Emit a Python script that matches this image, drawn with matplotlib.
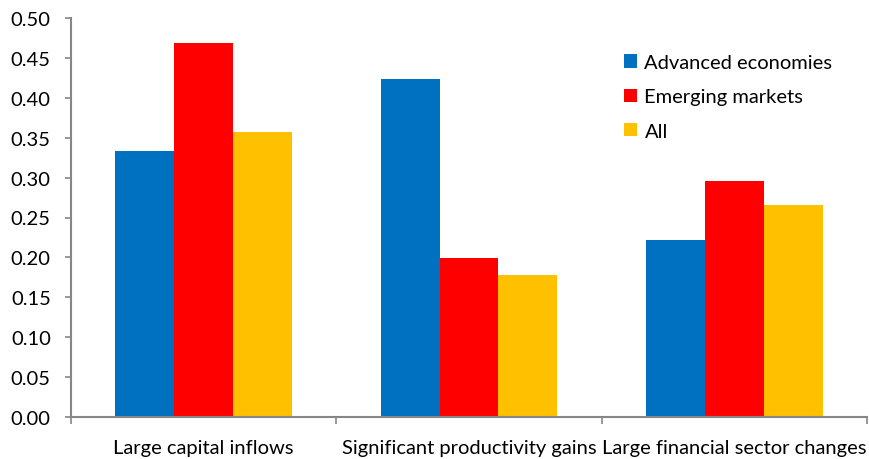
import matplotlib
matplotlib.use("Agg")
import matplotlib.pyplot as plt
import numpy as np

plt.rcParams['font.family'] = ['Lato', 'DejaVu Sans']

categories = ["Large capital inflows", "Significant productivity gains", "Large financial sector changes"]
series_names = ["Advanced economies", "Emerging markets", "All"]
advanced = [0.333, 0.423, 0.222]
emerging = [0.469, 0.199, 0.296]
all_countries = [0.357, 0.178, 0.266]
y_ticks = [0.00, 0.05, 0.10, 0.15, 0.20, 0.25, 0.30, 0.35, 0.40, 0.45, 0.50]

colors = ["#0070C0", "#FF0000", "#FFC000"]
axis_color = "#868686"

fig = plt.figure(figsize=(8.69, 4.60), dpi=100)
ax = fig.add_axes([0.0817, 0.0913, 0.9160, 0.8674])

x = np.arange(len(categories))
w = 0.222
for i, (vals, name) in enumerate(zip([advanced, emerging, all_countries], series_names)):
    ax.bar(x + (i - 1) * w, vals, width=w, color=colors[i], label=name, zorder=2)

ax.set_xlim(-0.5, len(categories) - 0.5)
ax.set_ylim(0, 0.50)
ax.set_yticks(y_ticks)
ax.set_yticklabels([f"{t:.2f}" for t in y_ticks])

ax.set_xticks(x)
ax.set_xticklabels(categories)
ax.set_xticks(np.arange(-0.5, len(categories), 1.0), minor=True)
ax.tick_params(axis='x', which='major', length=0, pad=16, labelsize=14.5)
ax.tick_params(axis='x', which='minor', length=5, width=1.2, color=axis_color, direction='out')
ax.tick_params(axis='y', which='major', length=4, width=1.2, color=axis_color,
               direction='out', pad=10.5, labelsize=14.5)

for side in ['top', 'right']:
    ax.spines[side].set_visible(False)
for side in ['left', 'bottom']:
    ax.spines[side].set_color(axis_color)
    ax.spines[side].set_linewidth(1.5)

leg = ax.legend(loc='upper left', bbox_to_anchor=(0.685, 0.93), frameon=False,
                fontsize=14.5, handlelength=0.65, handleheight=0.65,
                handletextpad=0.35, labelspacing=0.86, borderaxespad=0)

fig.savefig("out.png", dpi=100, facecolor="white")
